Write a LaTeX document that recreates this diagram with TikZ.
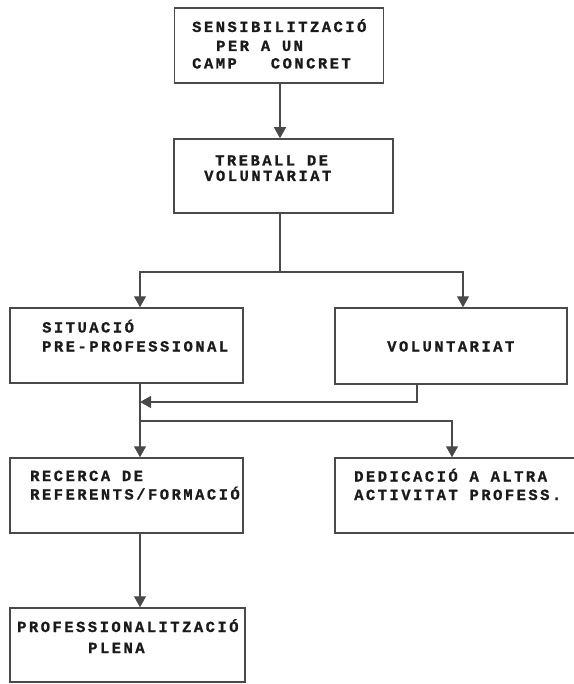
\documentclass[tikz,border=0pt]{standalone}
\usepackage{fontspec}
\newfontfamily\typefont[LetterSpace=16, FakeBold=0.8]{Liberation Mono Bold}
\usetikzlibrary{arrows.meta,calc}
\definecolor{linegray}{HTML}{4A4A4A}
\definecolor{ink}{HTML}{1A1A1A}

\begin{document}
\begin{tikzpicture}[x=1pt,y=-1pt,
  box/.style={draw=linegray, line width=1.5pt, rectangle, inner sep=0pt},
  lbl/.style={anchor=base west, inner sep=0pt, text=ink,
    font=\typefont\fontsize{15.5}{17}\selectfont},
  conn/.style={draw=linegray, line width=1.3pt},
  arr/.style={conn, -{Triangle[length=11pt,width=12pt]}}]

\fill[white] (0,0) rectangle (573,684);
\useasboundingbox (0,0) rectangle (573,684);

% boxes
\node[box, minimum width=209pt, minimum height=75pt] (b1) at (279,45.5) {};
\node[box, minimum width=219pt, minimum height=74pt] (b2) at (283.5,176) {};
\node[box, minimum width=233pt, minimum height=75pt] (b3) at (126.5,345.5) {};
\node[box, minimum width=232pt, minimum height=76pt] (b4) at (451,346) {};
\node[box, minimum width=233pt, minimum height=75pt] (b5) at (126.5,495.5) {};
\node[box, minimum width=255pt, minimum height=75pt] (b6) at (462.5,495.5) {};
\node[box, minimum width=235pt, minimum height=74pt] (b7) at (127.5,645) {};

% box texts
\node[lbl] (t1a) at (192,32) {SENSIBILITZACIÓ};
\node[lbl] (t1b) at (216,51) {PER A UN};
\node[lbl] (t1c) at (192,68.5) {CAMP\hspace{34pt}CONCRET};
\node[lbl] (t2a) at (215,165.5) {TREBALL DE};
\node[lbl] (t2b) at (204,181) {VOLUNTARIAT};
\node[lbl] (t3a) at (42,332.5) {SITUACIÓ};
\node[lbl] (t3b) at (42,351.5) {PRE-PROFESSIONAL};
\node[lbl] (t4a) at (387,351.5) {VOLUNTARIAT};
\node[lbl] (t5a) at (30,481) {RECERCA DE};
\node[lbl] (t5b) at (30,499.5) {REFERENTS/FORMACIÓ};
\node[lbl] (t6a) at (354,481.5) {DEDICACIÓ A ALTRA};
\node[lbl] (t6b) at (354,500) {ACTIVITAT PROFESS.};
\node[lbl] (t7a) at (17,632) {PROFESSIONALITZACIÓ};
\node[lbl] (t7b) at (88,653) {PLENA};

% columns and junctions of the connectors
\coordinate (cL) at (140,0);
\coordinate (cR) at (463,0);
\coordinate (cV) at (417,0);
\coordinate (cD) at (452,0);
\coordinate (j1) at (280,272);
\coordinate (m1) at (140,402);
\coordinate (m2) at (140,421);

% connectors
\draw[arr] (b1.south -| j1) -- (b2.north -| j1);
\draw[conn] (b2.south -| j1) -- (j1);
\draw[arr] (j1) -| (b3.north -| cL);
\draw[arr] (j1) -| (b4.north -| cR);
\draw[arr] (b4.south -| cV) |- (m1);
\draw[arr] (b3.south -| cL) -- (b5.north -| cL);
\draw[arr] (m2) -| (b6.north -| cD);
\draw[arr] (b5.south -| cL) -- (b7.north -| cL);
\end{tikzpicture}
\end{document}
